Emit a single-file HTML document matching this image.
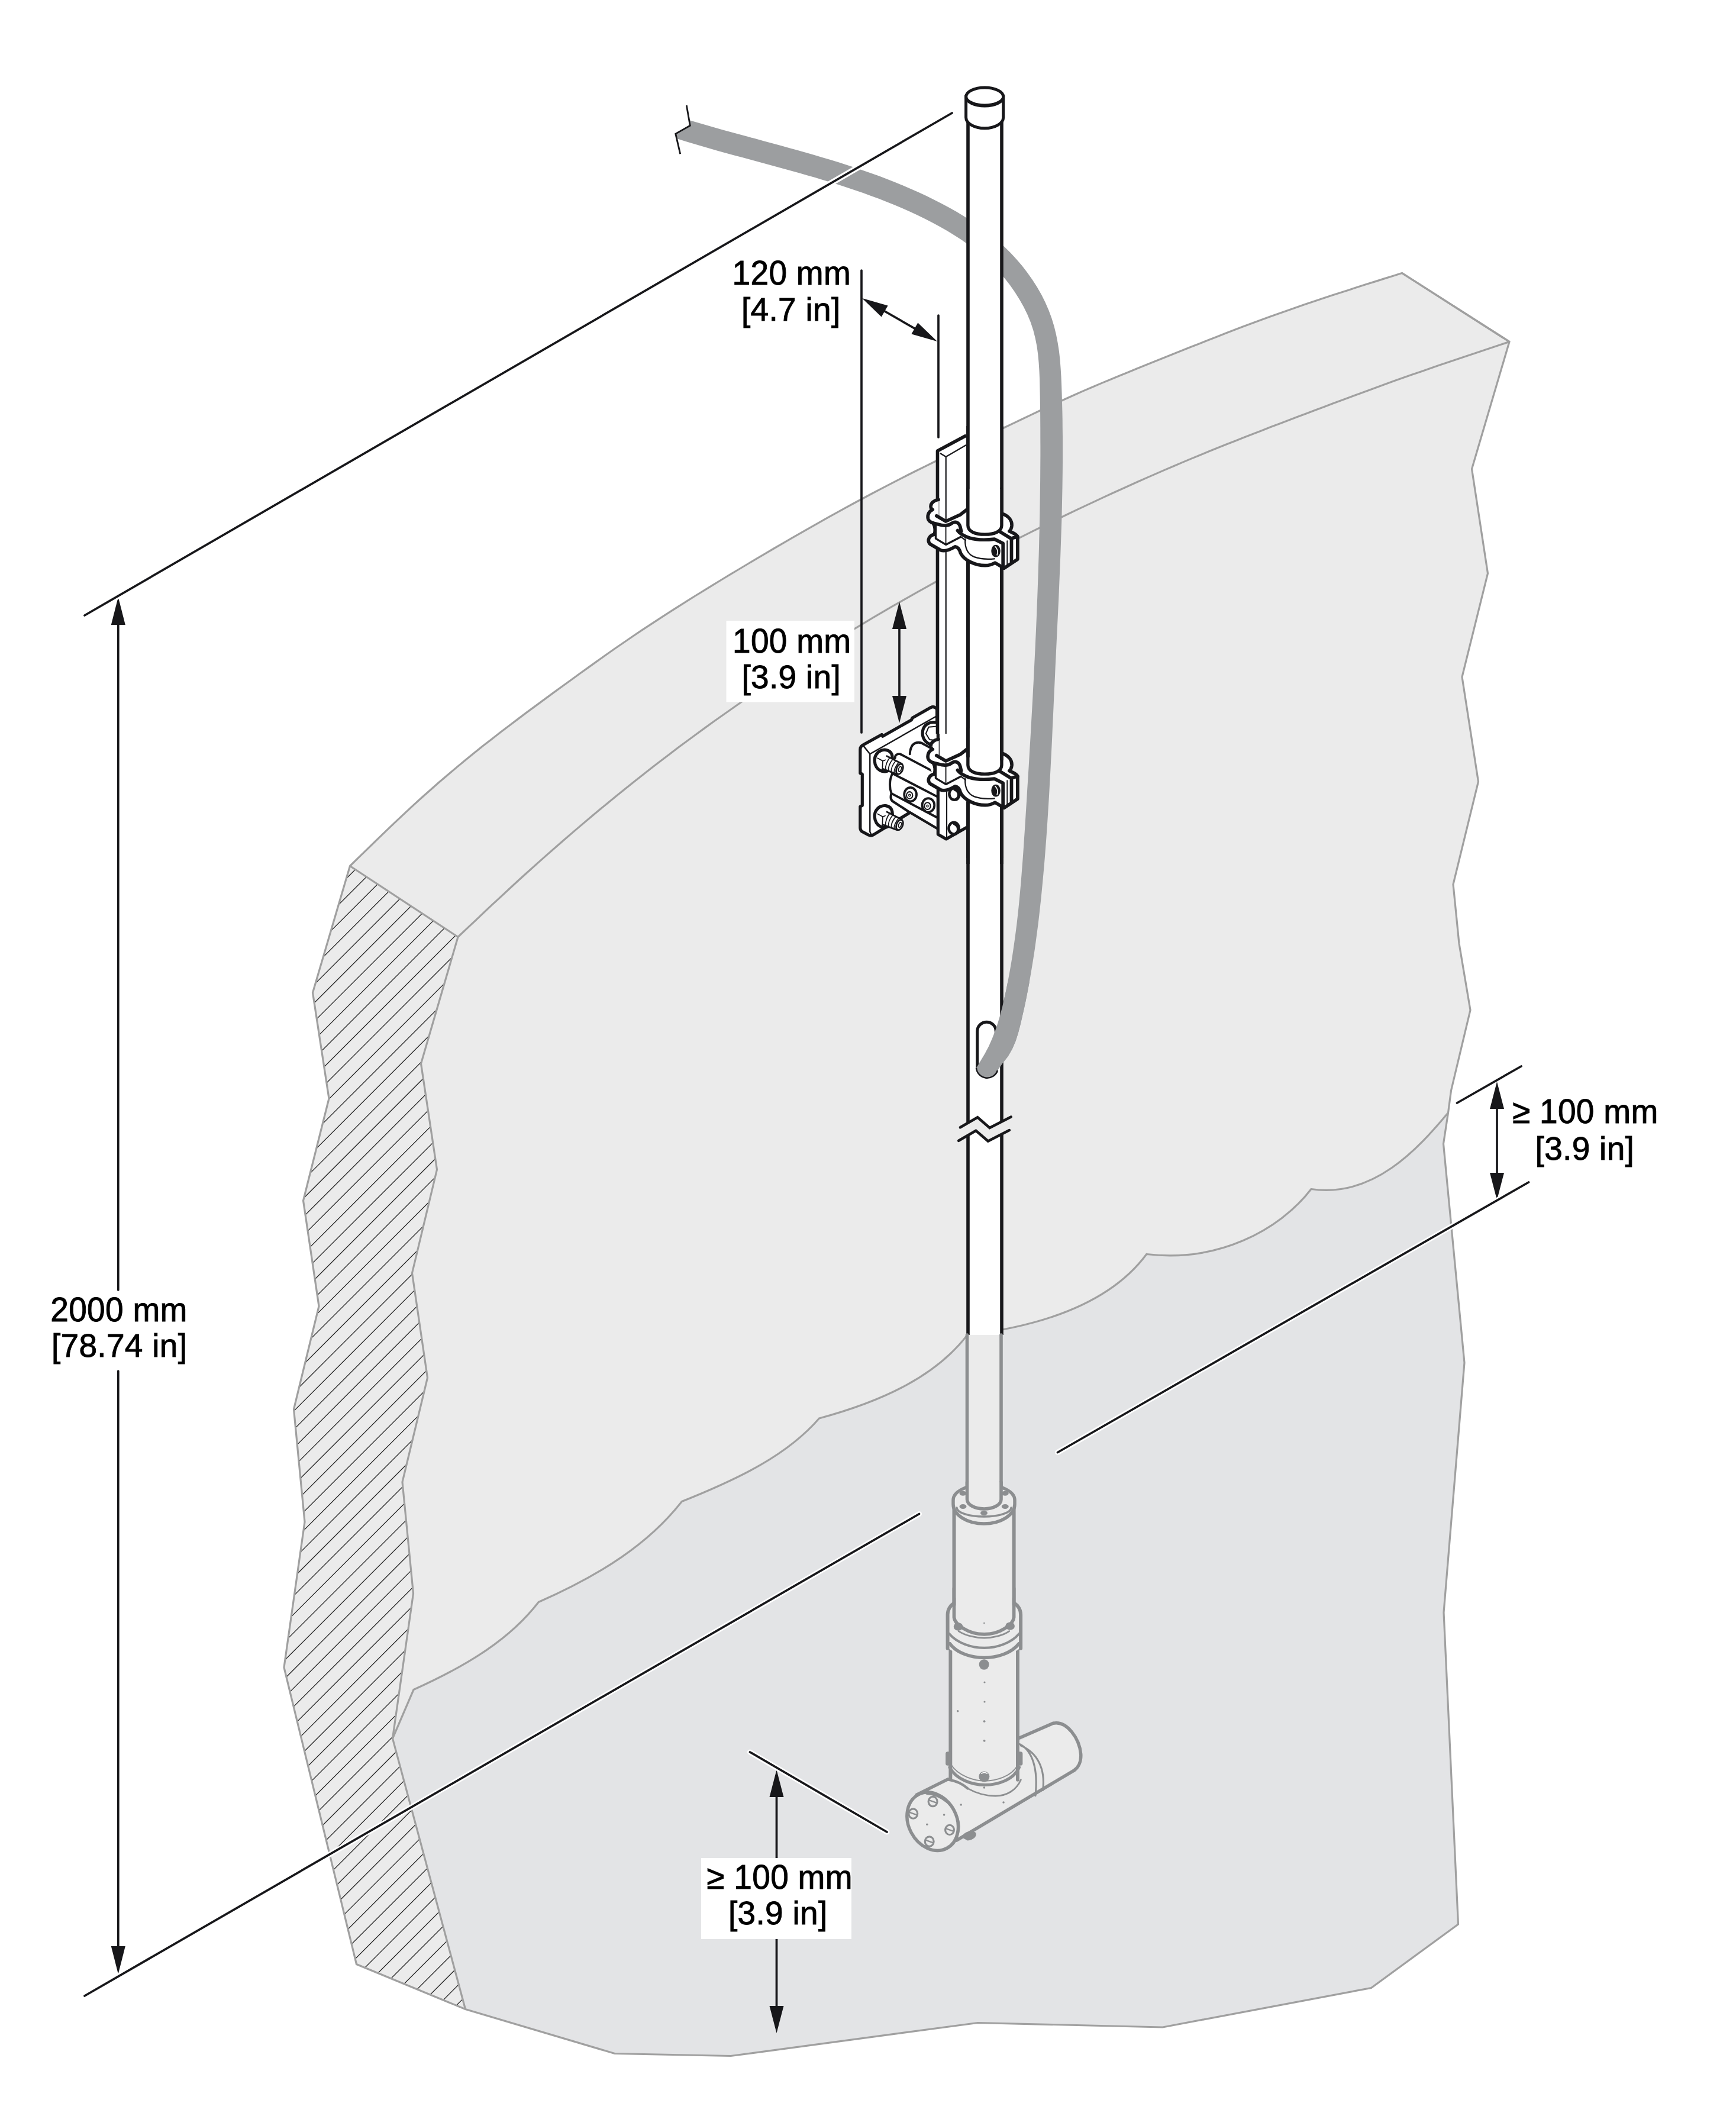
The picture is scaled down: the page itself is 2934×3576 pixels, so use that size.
<!DOCTYPE html>
<html><head><meta charset="utf-8"><style>
html,body{margin:0;padding:0;background:#fff;overflow:hidden;}
svg{display:block;}
text{font-family:"Liberation Sans",sans-serif;}
</style></head><body><svg xmlns="http://www.w3.org/2000/svg" width="2934" height="3576" viewBox="0 0 2934 3576"><path d="M591.5,1463.5 L606.4,1448.9 L621.4,1434.3 L636.3,1419.8 L651.3,1405.4 L666.2,1391.1 L681.1,1377.1 L696.1,1363.2 L711.0,1349.5 L726.0,1336.2 L740.9,1323.0 L755.9,1310.2 L770.8,1297.6 L785.7,1285.2 L800.7,1273.1 L815.6,1261.1 L830.6,1249.4 L845.5,1237.8 L860.4,1226.4 L875.4,1215.1 L890.3,1203.9 L905.3,1192.9 L920.2,1181.9 L935.1,1170.9 L950.1,1160.0 L965.0,1149.2 L980.0,1138.3 L994.9,1127.6 L1009.9,1116.9 L1024.8,1106.3 L1039.7,1095.8 L1054.7,1085.5 L1069.6,1075.3 L1084.6,1065.2 L1099.5,1055.3 L1114.4,1045.6 L1129.4,1035.9 L1144.3,1026.3 L1159.3,1016.9 L1174.2,1007.5 L1189.1,998.3 L1204.1,989.1 L1219.0,980.0 L1234.0,970.9 L1248.9,962.0 L1263.9,953.0 L1278.8,944.1 L1293.7,935.3 L1308.7,926.5 L1323.6,917.8 L1338.6,909.2 L1353.5,900.6 L1368.4,892.1 L1383.4,883.6 L1398.3,875.2 L1413.3,866.9 L1428.2,858.7 L1443.1,850.5 L1458.1,842.5 L1473.0,834.5 L1488.0,826.6 L1502.9,818.8 L1517.9,811.1 L1532.8,803.5 L1547.7,796.0 L1562.7,788.6 L1577.6,781.3 L1592.6,774.0 L1607.5,766.7 L1622.4,759.3 L1637.4,752.0 L1652.3,744.7 L1667.3,737.4 L1682.2,730.1 L1697.1,722.8 L1712.1,715.6 L1727.0,708.5 L1742.0,701.4 L1756.9,694.3 L1771.9,687.4 L1786.8,680.5 L1801.7,673.7 L1816.7,667.0 L1831.6,660.4 L1846.6,654.0 L1861.5,647.6 L1876.4,641.4 L1891.4,635.2 L1906.3,629.2 L1921.3,623.1 L1936.2,617.1 L1951.1,611.1 L1966.1,605.1 L1981.0,599.1 L1996.0,593.1 L2010.9,587.1 L2025.9,581.2 L2040.8,575.2 L2055.7,569.4 L2070.7,563.5 L2085.6,557.8 L2100.6,552.1 L2115.5,546.5 L2130.4,541.0 L2145.4,535.5 L2160.3,530.2 L2175.3,524.9 L2190.2,519.7 L2205.1,514.5 L2220.1,509.5 L2235.0,504.5 L2250.0,499.6 L2264.9,494.7 L2279.9,489.9 L2294.8,485.1 L2309.7,480.3 L2324.7,475.6 L2339.6,470.9 L2354.6,466.2 L2369.5,461.5 L2551.0,577.5 L2487.5,792.5 L2514.5,969.0 L2471.0,1144.0 L2498.5,1321.0 L2456.0,1494.5 L2466.0,1594.5 L2485.0,1707.0 L2452.5,1843.0 L2447.5,1880.5 L2439.5,1933.0 L2475.0,2303.0 L2440.0,2725.0 L2464.5,3252.0 L2317.5,3359.5 L1965.0,3426.0 L1652.5,3418.5 L1235.0,3474.5 L1039.0,3470.5 L786.5,3395.5 L602.5,3319.5 L480.0,2818.0 L515.0,2572.0 L496.5,2381.5 L539.0,2207.5 L512.5,2029.0 L556.0,1856.5 L528.5,1677.5 L591.5,1463.5 Z" fill="#ebebeb"/>
<path d="M663.5,2938 L699,2855.5 C793.1,2813.2 863.0,2768.8 910.2,2707.5 C1018.5,2659.8 1097.7,2607.4 1152.3,2537.5 C1253.1,2497.2 1331.1,2458.4 1384.5,2397 C1495.5,2367.0 1582.4,2324.4 1635,2256 C1766.9,2240.2 1878.5,2199.6 1937.8,2119.5 C2056.6,2133.8 2161.3,2080.6 2216,2009.5 C2320.8,2025.2 2396.6,1941.6 2447.5,1880.5 L2439.5,1933.0 L2475.0,2303.0 L2440.0,2725.0 L2464.5,3252.0 L2317.5,3359.5 L1965.0,3426.0 L1652.5,3418.5 L1235.0,3474.5 L1039.0,3470.5 L786.5,3395.5 Z" fill="#e3e4e6"/>
<defs><clipPath id="hc"><polygon points="591.5,1463.5 774.0,1583.5 711.5,1797.5 738.5,1976.5 696.5,2151.5 722.5,2328.5 680.0,2504.5 698.5,2693.0 663.5,2938.0 786.5,3395.5 602.5,3319.5 480.0,2818.0 515.0,2572.0 496.5,2381.5 539.0,2207.5 512.5,2029.0 556.0,1856.5 528.5,1677.5 591.5,1463.5"/></clipPath></defs>
<path d="M-578.0,1400 L-2628.0,3450 M-546.8,1400 L-2596.8,3450 M-515.6,1400 L-2565.6,3450 M-484.4,1400 L-2534.4,3450 M-453.2,1400 L-2503.2,3450 M-422.0,1400 L-2472.0,3450 M-390.8,1400 L-2440.8,3450 M-359.6,1400 L-2409.6,3450 M-328.4,1400 L-2378.4,3450 M-297.2,1400 L-2347.2,3450 M-266.0,1400 L-2316.0,3450 M-234.8,1400 L-2284.8,3450 M-203.6,1400 L-2253.6,3450 M-172.4,1400 L-2222.4,3450 M-141.2,1400 L-2191.2,3450 M-110.0,1400 L-2160.0,3450 M-78.8,1400 L-2128.8,3450 M-47.6,1400 L-2097.6,3450 M-16.4,1400 L-2066.4,3450 M14.8,1400 L-2035.2,3450 M46.0,1400 L-2004.0,3450 M77.2,1400 L-1972.8,3450 M108.4,1400 L-1941.6,3450 M139.6,1400 L-1910.4,3450 M170.8,1400 L-1879.2,3450 M202.0,1400 L-1848.0,3450 M233.2,1400 L-1816.8,3450 M264.4,1400 L-1785.6,3450 M295.6,1400 L-1754.4,3450 M326.8,1400 L-1723.2,3450 M358.0,1400 L-1692.0,3450 M389.2,1400 L-1660.8,3450 M420.4,1400 L-1629.6,3450 M451.6,1400 L-1598.4,3450 M482.8,1400 L-1567.2,3450 M514.0,1400 L-1536.0,3450 M545.2,1400 L-1504.8,3450 M576.4,1400 L-1473.6,3450 M607.6,1400 L-1442.4,3450 M638.8,1400 L-1411.2,3450 M670.0,1400 L-1380.0,3450 M701.2,1400 L-1348.8,3450 M732.4,1400 L-1317.6,3450 M763.6,1400 L-1286.4,3450 M794.8,1400 L-1255.2,3450 M826.0,1400 L-1224.0,3450 M857.2,1400 L-1192.8,3450 M888.4,1400 L-1161.6,3450 M919.6,1400 L-1130.4,3450 M950.8,1400 L-1099.2,3450 M982.0,1400 L-1068.0,3450 M1013.2,1400 L-1036.8,3450 M1044.4,1400 L-1005.6,3450 M1075.6,1400 L-974.4,3450 M1106.8,1400 L-943.2,3450 M1138.0,1400 L-912.0,3450 M1169.2,1400 L-880.8,3450 M1200.4,1400 L-849.6,3450 M1231.6,1400 L-818.4,3450 M1262.8,1400 L-787.2,3450 M1294.0,1400 L-756.0,3450 M1325.2,1400 L-724.8,3450 M1356.4,1400 L-693.6,3450 M1387.6,1400 L-662.4,3450 M1418.8,1400 L-631.2,3450 M1450.0,1400 L-600.0,3450 M1481.2,1400 L-568.8,3450 M1512.4,1400 L-537.6,3450 M1543.6,1400 L-506.4,3450 M1574.8,1400 L-475.2,3450 M1606.0,1400 L-444.0,3450 M1637.2,1400 L-412.8,3450 M1668.4,1400 L-381.6,3450 M1699.6,1400 L-350.4,3450 M1730.8,1400 L-319.2,3450 M1762.0,1400 L-288.0,3450 M1793.2,1400 L-256.8,3450 M1824.4,1400 L-225.6,3450 M1855.6,1400 L-194.4,3450 M1886.8,1400 L-163.2,3450 M1918.0,1400 L-132.0,3450 M1949.2,1400 L-100.8,3450 M1980.4,1400 L-69.6,3450 M2011.6,1400 L-38.4,3450 M2042.8,1400 L-7.2,3450 M2074.0,1400 L24.0,3450 M2105.2,1400 L55.2,3450 M2136.4,1400 L86.4,3450 M2167.6,1400 L117.6,3450 M2198.8,1400 L148.8,3450 M2230.0,1400 L180.0,3450 M2261.2,1400 L211.2,3450 M2292.4,1400 L242.4,3450 M2323.6,1400 L273.6,3450 M2354.8,1400 L304.8,3450 M2386.0,1400 L336.0,3450 M2417.2,1400 L367.2,3450 M2448.4,1400 L398.4,3450 M2479.6,1400 L429.6,3450 M2510.8,1400 L460.8,3450 M2542.0,1400 L492.0,3450 M2573.2,1400 L523.2,3450 M2604.4,1400 L554.4,3450 M2635.6,1400 L585.6,3450 M2666.8,1400 L616.8,3450 M2698.0,1400 L648.0,3450 M2729.2,1400 L679.2,3450 M2760.4,1400 L710.4,3450 M2791.6,1400 L741.6,3450 M2822.8,1400 L772.8,3450 M2854.0,1400 L804.0,3450 M2885.2,1400 L835.2,3450 M2916.4,1400 L866.4,3450 M2947.6,1400 L897.6,3450 M2978.8,1400 L928.8,3450 M3010.0,1400 L960.0,3450 M3041.2,1400 L991.2,3450 M3072.4,1400 L1022.4,3450 M3103.6,1400 L1053.6,3450 M3134.8,1400 L1084.8,3450" stroke="#222" stroke-width="1.3" clip-path="url(#hc)"/>
<g fill="none" stroke="#a0a0a0" stroke-width="3.2" stroke-linejoin="miter">
<path d="M591.5,1463.5 L606.4,1448.9 L621.4,1434.3 L636.3,1419.8 L651.3,1405.4 L666.2,1391.1 L681.1,1377.1 L696.1,1363.2 L711.0,1349.5 L726.0,1336.2 L740.9,1323.0 L755.9,1310.2 L770.8,1297.6 L785.7,1285.2 L800.7,1273.1 L815.6,1261.1 L830.6,1249.4 L845.5,1237.8 L860.4,1226.4 L875.4,1215.1 L890.3,1203.9 L905.3,1192.9 L920.2,1181.9 L935.1,1170.9 L950.1,1160.0 L965.0,1149.2 L980.0,1138.3 L994.9,1127.6 L1009.9,1116.9 L1024.8,1106.3 L1039.7,1095.8 L1054.7,1085.5 L1069.6,1075.3 L1084.6,1065.2 L1099.5,1055.3 L1114.4,1045.6 L1129.4,1035.9 L1144.3,1026.3 L1159.3,1016.9 L1174.2,1007.5 L1189.1,998.3 L1204.1,989.1 L1219.0,980.0 L1234.0,970.9 L1248.9,962.0 L1263.9,953.0 L1278.8,944.1 L1293.7,935.3 L1308.7,926.5 L1323.6,917.8 L1338.6,909.2 L1353.5,900.6 L1368.4,892.1 L1383.4,883.6 L1398.3,875.2 L1413.3,866.9 L1428.2,858.7 L1443.1,850.5 L1458.1,842.5 L1473.0,834.5 L1488.0,826.6 L1502.9,818.8 L1517.9,811.1 L1532.8,803.5 L1547.7,796.0 L1562.7,788.6 L1577.6,781.3 L1592.6,774.0 L1607.5,766.7 L1622.4,759.3 L1637.4,752.0 L1652.3,744.7 L1667.3,737.4 L1682.2,730.1 L1697.1,722.8 L1712.1,715.6 L1727.0,708.5 L1742.0,701.4 L1756.9,694.3 L1771.9,687.4 L1786.8,680.5 L1801.7,673.7 L1816.7,667.0 L1831.6,660.4 L1846.6,654.0 L1861.5,647.6 L1876.4,641.4 L1891.4,635.2 L1906.3,629.2 L1921.3,623.1 L1936.2,617.1 L1951.1,611.1 L1966.1,605.1 L1981.0,599.1 L1996.0,593.1 L2010.9,587.1 L2025.9,581.2 L2040.8,575.2 L2055.7,569.4 L2070.7,563.5 L2085.6,557.8 L2100.6,552.1 L2115.5,546.5 L2130.4,541.0 L2145.4,535.5 L2160.3,530.2 L2175.3,524.9 L2190.2,519.7 L2205.1,514.5 L2220.1,509.5 L2235.0,504.5 L2250.0,499.6 L2264.9,494.7 L2279.9,489.9 L2294.8,485.1 L2309.7,480.3 L2324.7,475.6 L2339.6,470.9 L2354.6,466.2 L2369.5,461.5 L2551.0,577.5 L2487.5,792.5 L2514.5,969.0 L2471.0,1144.0 L2498.5,1321.0 L2456.0,1494.5 L2466.0,1594.5 L2485.0,1707.0 L2452.5,1843.0 L2447.5,1880.5 L2439.5,1933.0 L2475.0,2303.0 L2440.0,2725.0 L2464.5,3252.0 L2317.5,3359.5 L1965.0,3426.0 L1652.5,3418.5 L1235.0,3474.5 L1039.0,3470.5 L786.5,3395.5 L602.5,3319.5 L480.0,2818.0 L515.0,2572.0 L496.5,2381.5 L539.0,2207.5 L512.5,2029.0 L556.0,1856.5 L528.5,1677.5 L591.5,1463.5 Z"/>
<path d="M774.0,1583.5 L788.9,1569.4 L803.9,1555.3 L818.8,1541.2 L833.7,1527.2 L848.7,1513.3 L863.6,1499.5 L878.5,1485.8 L893.5,1472.3 L908.4,1458.9 L923.3,1445.6 L938.3,1432.5 L953.2,1419.5 L968.1,1406.6 L983.1,1393.9 L998.0,1381.3 L1012.9,1368.8 L1027.9,1356.5 L1042.8,1344.3 L1057.7,1332.2 L1072.7,1320.3 L1087.6,1308.5 L1102.5,1296.8 L1117.5,1285.3 L1132.4,1273.9 L1147.3,1262.6 L1162.3,1251.5 L1177.2,1240.5 L1192.1,1229.6 L1207.1,1218.8 L1222.0,1208.2 L1236.9,1197.7 L1251.8,1187.3 L1266.8,1177.0 L1281.7,1166.8 L1296.6,1156.7 L1311.6,1146.7 L1326.5,1136.9 L1341.4,1127.1 L1356.4,1117.4 L1371.3,1107.9 L1386.2,1098.4 L1401.2,1089.1 L1416.1,1079.8 L1431.0,1070.6 L1446.0,1061.6 L1460.9,1052.6 L1475.8,1043.7 L1490.8,1034.9 L1505.7,1026.2 L1520.6,1017.6 L1535.6,1009.1 L1550.5,1000.6 L1565.4,992.3 L1580.4,984.0 L1595.3,975.8 L1610.2,967.7 L1625.2,959.7 L1640.1,951.7 L1655.0,943.8 L1670.0,936.0 L1684.9,928.3 L1699.8,920.7 L1714.8,913.1 L1729.7,905.6 L1744.6,898.1 L1759.6,890.8 L1774.5,883.4 L1789.4,876.2 L1804.4,869.0 L1819.3,861.9 L1834.2,854.9 L1849.2,847.9 L1864.1,840.9 L1879.0,834.0 L1894.0,827.2 L1908.9,820.5 L1923.8,813.8 L1938.8,807.1 L1953.7,800.6 L1968.6,794.1 L1983.6,787.7 L1998.5,781.4 L2013.4,775.1 L2028.4,768.9 L2043.3,762.8 L2058.2,756.8 L2073.2,750.8 L2088.1,744.9 L2103.0,739.0 L2117.9,733.2 L2132.9,727.4 L2147.8,721.6 L2162.7,715.9 L2177.7,710.2 L2192.6,704.6 L2207.5,698.9 L2222.5,693.3 L2237.4,687.7 L2252.3,682.1 L2267.3,676.5 L2282.2,671.0 L2297.1,665.4 L2312.1,659.9 L2327.0,654.4 L2341.9,649.0 L2356.9,643.6 L2371.8,638.3 L2386.7,633.1 L2401.7,627.9 L2416.6,622.7 L2431.5,617.6 L2446.5,612.5 L2461.4,607.4 L2476.3,602.4 L2491.3,597.4 L2506.2,592.4 L2521.1,587.4 L2536.1,582.5 L2551.0,577.5"/>
<path d="M2369.5,461.5 L2551,577.5"/>
<polyline points="591.5,1463.5 774.0,1583.5 711.5,1797.5 738.5,1976.5 696.5,2151.5 722.5,2328.5 680.0,2504.5 698.5,2693.0 663.5,2938.0 786.5,3395.5"/>
<path d="M663.5,2938 L699,2855.5 C793.1,2813.2 863.0,2768.8 910.2,2707.5 C1018.5,2659.8 1097.7,2607.4 1152.3,2537.5 C1253.1,2497.2 1331.1,2458.4 1384.5,2397 C1495.5,2367.0 1582.4,2324.4 1635,2256 C1766.9,2240.2 1878.5,2199.6 1937.8,2119.5 C2056.6,2133.8 2161.3,2080.6 2216,2009.5 C2320.8,2025.2 2396.6,1941.6 2447.5,1880.5"/>
</g>
<g stroke="#17171a" stroke-width="3.7" fill="none" stroke-linecap="round">
<line x1="2462.5" y1="1864" x2="2571" y2="1802"/>
<line x1="199.8" y1="1030" x2="199.8" y2="2180"/>
<line x1="199.8" y1="2317" x2="199.8" y2="3316"/>
<line x1="2530" y1="1850" x2="2530" y2="2006"/>
<line x1="1312.5" y1="3010" x2="1312.5" y2="3140"/>
<line x1="1312.5" y1="3277" x2="1312.5" y2="3416"/>
<line x1="1456" y1="457" x2="1456" y2="1238"/>
<line x1="1586" y1="533" x2="1586" y2="739"/>
<line x1="1470" y1="511.5" x2="1571" y2="569.5"/>
<line x1="1520" y1="1040" x2="1520" y2="1200"/>
</g>
<polygon points="199.8,1009.0 211.8,1056.0 187.8,1056.0" fill="#17171a"/>
<polygon points="199.8,3336.0 187.8,3289.0 211.8,3289.0" fill="#17171a"/>
<polygon points="2530.0,1828.0 2542.0,1874.0 2518.0,1874.0" fill="#17171a"/>
<polygon points="2530.0,2028.0 2518.0,1982.0 2542.0,1982.0" fill="#17171a"/>
<polygon points="1312.5,2991.0 1324.5,3037.0 1300.5,3037.0" fill="#17171a"/>
<polygon points="1312.5,3436.0 1300.5,3390.0 1324.5,3390.0" fill="#17171a"/>
<polygon points="1520.0,1017.0 1532.0,1063.0 1508.0,1063.0" fill="#17171a"/>
<polygon points="1520.0,1222.0 1508.0,1176.0 1532.0,1176.0" fill="#17171a"/>
<polygon points="1457.0,504.0 1500.6,516.4 1489.7,535.5" fill="#17171a"/>
<polygon points="1584.0,577.0 1540.4,564.6 1551.3,545.5" fill="#17171a"/>
<path d="M1166.3,203.5 L1180.1,207.6 L1193.9,211.6 L1207.7,215.5 L1221.6,219.4 L1235.5,223.2 L1249.4,227.0 L1263.4,230.8 L1277.4,234.6 L1291.4,238.4 L1305.5,242.2 L1319.5,246.0 L1333.5,249.9 L1347.5,253.8 L1361.6,257.7 L1375.5,261.8 L1389.5,265.9 L1403.4,270.0 L1417.3,274.3 L1431.1,278.7 L1444.9,283.3 L1458.6,287.9 L1472.3,292.7 L1485.9,297.6 L1499.4,302.8 L1512.8,308.0 L1526.2,313.5 L1539.4,319.2 L1552.6,325.0 L1565.6,331.1 L1578.5,337.4 L1591.3,344.0 L1604.0,350.8 L1616.5,357.8 L1628.8,365.2 L1640.9,372.9 L1652.8,380.9 L1664.5,389.4 L1675.8,398.2 L1686.8,407.4 L1697.5,417.1 L1707.9,427.3 L1717.8,437.9 L1727.3,449.1 L1736.3,460.7 L1744.8,472.7 L1752.7,485.1 L1760.0,497.8 L1766.6,510.9 L1772.4,524.2 L1777.4,537.7 L1781.6,551.5 L1785.0,565.4 L1787.7,579.4 L1789.9,593.6 L1791.5,607.8 L1792.6,622.2 L1793.5,636.6 L1794.1,651.0 L1794.6,665.5 L1795.0,679.9 L1795.4,694.4 L1795.7,708.9 L1795.8,723.3 L1796.0,737.8 L1796.0,752.3 L1796.0,766.7 L1796.0,781.2 L1795.9,795.7 L1795.7,810.1 L1795.5,824.6 L1795.2,839.1 L1794.9,853.5 L1794.6,868.0 L1794.2,882.5 L1793.7,896.9 L1793.2,911.4 L1792.7,925.9 L1792.2,940.4 L1791.6,954.8 L1791.0,969.3 L1790.4,983.8 L1789.8,998.2 L1789.2,1012.7 L1788.5,1027.2 L1787.8,1041.6 L1787.1,1056.1 L1786.4,1070.6 L1785.7,1085.0 L1785.0,1099.5 L1784.3,1113.9 L1783.6,1128.4 L1783.0,1142.8 L1782.3,1157.3 L1781.6,1171.7 L1780.9,1186.2 L1780.3,1200.6 L1779.6,1215.1 L1778.9,1229.5 L1778.3,1244.0 L1777.6,1258.4 L1776.9,1272.8 L1776.1,1287.3 L1775.4,1301.7 L1774.6,1316.1 L1773.8,1330.6 L1773.0,1345.0 L1772.1,1359.4 L1771.2,1373.9 L1770.3,1388.3 L1769.3,1402.7 L1768.3,1417.2 L1767.2,1431.6 L1766.1,1446.0 L1764.9,1460.4 L1763.6,1474.9 L1762.3,1489.3 L1760.9,1503.7 L1759.5,1518.1 L1757.9,1532.6 L1756.3,1547.0 L1754.6,1561.4 L1752.7,1575.7 L1750.8,1590.1 L1748.8,1604.5 L1746.6,1618.8 L1744.3,1633.1 L1741.9,1647.3 L1739.4,1661.6 L1736.7,1675.8 L1733.9,1689.9 L1730.9,1704.0 L1727.7,1718.1 L1724.4,1732.2 L1720.8,1746.1 L1716.4,1759.7 L1710.8,1772.8 L1703.6,1785.3 L1694.4,1797.0 L1686.0,1809.0 A18.5,18.5 0 0 1 1650,1805 L1650.0,1805.0 L1657.3,1792.7 L1664.6,1780.5 L1671.2,1767.9 L1676.9,1755.1 L1682.0,1741.9 L1686.5,1728.5 L1690.5,1714.9 L1694.1,1701.2 L1697.3,1687.4 L1700.4,1673.5 L1703.2,1659.6 L1705.8,1645.7 L1708.3,1631.8 L1710.6,1617.8 L1712.7,1603.8 L1714.7,1589.8 L1716.6,1575.8 L1718.4,1561.7 L1720.0,1547.6 L1721.5,1533.5 L1722.9,1519.5 L1724.2,1505.3 L1725.5,1491.2 L1726.6,1477.1 L1727.7,1462.9 L1728.8,1448.8 L1729.8,1434.6 L1730.7,1420.5 L1731.7,1406.3 L1732.6,1392.2 L1733.5,1378.0 L1734.4,1363.8 L1735.3,1349.7 L1736.1,1335.5 L1737.0,1321.4 L1737.9,1307.2 L1738.8,1293.0 L1739.6,1278.9 L1740.4,1264.7 L1741.3,1250.6 L1742.1,1236.4 L1742.9,1222.2 L1743.7,1208.1 L1744.5,1193.9 L1745.3,1179.8 L1746.0,1165.6 L1746.8,1151.4 L1747.5,1137.3 L1748.2,1123.1 L1748.9,1109.0 L1749.6,1094.8 L1750.2,1080.7 L1750.9,1066.5 L1751.5,1052.3 L1752.1,1038.2 L1752.6,1024.0 L1753.2,1009.9 L1753.7,995.7 L1754.2,981.5 L1754.7,967.4 L1755.1,953.2 L1755.6,939.0 L1756.0,924.9 L1756.3,910.7 L1756.7,896.5 L1757.0,882.4 L1757.3,868.2 L1757.5,854.0 L1757.7,839.8 L1757.9,825.7 L1758.1,811.5 L1758.2,797.3 L1758.3,783.1 L1758.4,769.0 L1758.4,754.8 L1758.3,740.6 L1758.3,726.4 L1758.2,712.2 L1758.1,698.0 L1757.9,683.8 L1757.7,669.7 L1757.4,655.5 L1757.1,641.3 L1756.5,627.1 L1755.6,613.0 L1754.3,599.0 L1752.4,585.1 L1749.7,571.4 L1746.2,557.8 L1741.8,544.4 L1736.3,531.2 L1729.9,518.3 L1722.8,505.7 L1715.1,493.6 L1706.9,481.8 L1698.1,470.6 L1688.9,459.8 L1679.1,449.6 L1669.0,439.8 L1658.4,430.5 L1647.5,421.6 L1636.2,413.2 L1624.6,405.1 L1612.8,397.4 L1600.7,390.0 L1588.3,383.0 L1575.8,376.2 L1563.2,369.8 L1550.4,363.6 L1537.5,357.6 L1524.5,351.8 L1511.5,346.3 L1498.3,341.0 L1485.2,335.8 L1471.9,330.9 L1458.6,326.1 L1445.2,321.4 L1431.8,316.9 L1418.3,312.6 L1404.8,308.3 L1391.2,304.2 L1377.6,300.1 L1364.0,296.2 L1350.4,292.3 L1336.7,288.5 L1323.0,284.7 L1309.3,280.9 L1295.6,277.2 L1281.9,273.5 L1268.2,269.8 L1254.5,266.1 L1240.8,262.4 L1227.1,258.7 L1213.4,254.9 L1199.8,251.0 L1186.1,247.1 L1172.5,243.1 L1159.0,239.0 L1145.5,234.8 L1141.8,226.1 L1166.3,212.3 Z" fill="#9c9ea0"/>
<polyline points="1160.3,178 1166.3,212.3 1141.8,226.1 1149.7,260.2" fill="none" stroke="#17171a" stroke-width="2.8"/>
<line x1="143" y1="1040" x2="1609" y2="191" stroke="#fff" stroke-width="10" stroke-linecap="round"/><line x1="143" y1="1040" x2="1609" y2="191" stroke="#17171a" stroke-width="3.7" stroke-linecap="round"/>
<rect x="1636" y="200" width="57" height="2056" fill="#fff"/><line x1="1636" y1="200" x2="1636" y2="2256" stroke="#17171a" stroke-width="5.6"/><line x1="1693" y1="200" x2="1693" y2="2256" stroke="#17171a" stroke-width="5.6"/>
<path d="M1632.6,163.5 L1632.6,198.4 A31.5,18.4 0 0 0 1695.7,198.4 L1695.7,163.5 Z" fill="#fff" stroke="#17171a" stroke-width="5"/>
<ellipse cx="1664.2" cy="163.5" rx="31.5" ry="15.5" fill="#fff" stroke="#17171a" stroke-width="5"/>
<path d="M1633,163.5 A31.5,15.5 0 0 0 1695.5,163.5" fill="none" stroke="#17171a" stroke-width="3"/>
<path d="M1651.7,1805 L1651.7,1743 A15.8,15.8 0 0 1 1683.3,1743 L1683.3,1760" fill="#fff" stroke="#17171a" stroke-width="5"/>
<defs><clipPath id="lowc"><rect x="1600" y="1660" width="200" height="200"/></clipPath></defs>
<path d="M1166.3,203.5 L1180.1,207.6 L1193.9,211.6 L1207.7,215.5 L1221.6,219.4 L1235.5,223.2 L1249.4,227.0 L1263.4,230.8 L1277.4,234.6 L1291.4,238.4 L1305.5,242.2 L1319.5,246.0 L1333.5,249.9 L1347.5,253.8 L1361.6,257.7 L1375.5,261.8 L1389.5,265.9 L1403.4,270.0 L1417.3,274.3 L1431.1,278.7 L1444.9,283.3 L1458.6,287.9 L1472.3,292.7 L1485.9,297.6 L1499.4,302.8 L1512.8,308.0 L1526.2,313.5 L1539.4,319.2 L1552.6,325.0 L1565.6,331.1 L1578.5,337.4 L1591.3,344.0 L1604.0,350.8 L1616.5,357.8 L1628.8,365.2 L1640.9,372.9 L1652.8,380.9 L1664.5,389.4 L1675.8,398.2 L1686.8,407.4 L1697.5,417.1 L1707.9,427.3 L1717.8,437.9 L1727.3,449.1 L1736.3,460.7 L1744.8,472.7 L1752.7,485.1 L1760.0,497.8 L1766.6,510.9 L1772.4,524.2 L1777.4,537.7 L1781.6,551.5 L1785.0,565.4 L1787.7,579.4 L1789.9,593.6 L1791.5,607.8 L1792.6,622.2 L1793.5,636.6 L1794.1,651.0 L1794.6,665.5 L1795.0,679.9 L1795.4,694.4 L1795.7,708.9 L1795.8,723.3 L1796.0,737.8 L1796.0,752.3 L1796.0,766.7 L1796.0,781.2 L1795.9,795.7 L1795.7,810.1 L1795.5,824.6 L1795.2,839.1 L1794.9,853.5 L1794.6,868.0 L1794.2,882.5 L1793.7,896.9 L1793.2,911.4 L1792.7,925.9 L1792.2,940.4 L1791.6,954.8 L1791.0,969.3 L1790.4,983.8 L1789.8,998.2 L1789.2,1012.7 L1788.5,1027.2 L1787.8,1041.6 L1787.1,1056.1 L1786.4,1070.6 L1785.7,1085.0 L1785.0,1099.5 L1784.3,1113.9 L1783.6,1128.4 L1783.0,1142.8 L1782.3,1157.3 L1781.6,1171.7 L1780.9,1186.2 L1780.3,1200.6 L1779.6,1215.1 L1778.9,1229.5 L1778.3,1244.0 L1777.6,1258.4 L1776.9,1272.8 L1776.1,1287.3 L1775.4,1301.7 L1774.6,1316.1 L1773.8,1330.6 L1773.0,1345.0 L1772.1,1359.4 L1771.2,1373.9 L1770.3,1388.3 L1769.3,1402.7 L1768.3,1417.2 L1767.2,1431.6 L1766.1,1446.0 L1764.9,1460.4 L1763.6,1474.9 L1762.3,1489.3 L1760.9,1503.7 L1759.5,1518.1 L1757.9,1532.6 L1756.3,1547.0 L1754.6,1561.4 L1752.7,1575.7 L1750.8,1590.1 L1748.8,1604.5 L1746.6,1618.8 L1744.3,1633.1 L1741.9,1647.3 L1739.4,1661.6 L1736.7,1675.8 L1733.9,1689.9 L1730.9,1704.0 L1727.7,1718.1 L1724.4,1732.2 L1720.8,1746.1 L1716.4,1759.7 L1710.8,1772.8 L1703.6,1785.3 L1694.4,1797.0 L1686.0,1809.0 A18.5,18.5 0 0 1 1650,1805 L1650.0,1805.0 L1657.3,1792.7 L1664.6,1780.5 L1671.2,1767.9 L1676.9,1755.1 L1682.0,1741.9 L1686.5,1728.5 L1690.5,1714.9 L1694.1,1701.2 L1697.3,1687.4 L1700.4,1673.5 L1703.2,1659.6 L1705.8,1645.7 L1708.3,1631.8 L1710.6,1617.8 L1712.7,1603.8 L1714.7,1589.8 L1716.6,1575.8 L1718.4,1561.7 L1720.0,1547.6 L1721.5,1533.5 L1722.9,1519.5 L1724.2,1505.3 L1725.5,1491.2 L1726.6,1477.1 L1727.7,1462.9 L1728.8,1448.8 L1729.8,1434.6 L1730.7,1420.5 L1731.7,1406.3 L1732.6,1392.2 L1733.5,1378.0 L1734.4,1363.8 L1735.3,1349.7 L1736.1,1335.5 L1737.0,1321.4 L1737.9,1307.2 L1738.8,1293.0 L1739.6,1278.9 L1740.4,1264.7 L1741.3,1250.6 L1742.1,1236.4 L1742.9,1222.2 L1743.7,1208.1 L1744.5,1193.9 L1745.3,1179.8 L1746.0,1165.6 L1746.8,1151.4 L1747.5,1137.3 L1748.2,1123.1 L1748.9,1109.0 L1749.6,1094.8 L1750.2,1080.7 L1750.9,1066.5 L1751.5,1052.3 L1752.1,1038.2 L1752.6,1024.0 L1753.2,1009.9 L1753.7,995.7 L1754.2,981.5 L1754.7,967.4 L1755.1,953.2 L1755.6,939.0 L1756.0,924.9 L1756.3,910.7 L1756.7,896.5 L1757.0,882.4 L1757.3,868.2 L1757.5,854.0 L1757.7,839.8 L1757.9,825.7 L1758.1,811.5 L1758.2,797.3 L1758.3,783.1 L1758.4,769.0 L1758.4,754.8 L1758.3,740.6 L1758.3,726.4 L1758.2,712.2 L1758.1,698.0 L1757.9,683.8 L1757.7,669.7 L1757.4,655.5 L1757.1,641.3 L1756.5,627.1 L1755.6,613.0 L1754.3,599.0 L1752.4,585.1 L1749.7,571.4 L1746.2,557.8 L1741.8,544.4 L1736.3,531.2 L1729.9,518.3 L1722.8,505.7 L1715.1,493.6 L1706.9,481.8 L1698.1,470.6 L1688.9,459.8 L1679.1,449.6 L1669.0,439.8 L1658.4,430.5 L1647.5,421.6 L1636.2,413.2 L1624.6,405.1 L1612.8,397.4 L1600.7,390.0 L1588.3,383.0 L1575.8,376.2 L1563.2,369.8 L1550.4,363.6 L1537.5,357.6 L1524.5,351.8 L1511.5,346.3 L1498.3,341.0 L1485.2,335.8 L1471.9,330.9 L1458.6,326.1 L1445.2,321.4 L1431.8,316.9 L1418.3,312.6 L1404.8,308.3 L1391.2,304.2 L1377.6,300.1 L1364.0,296.2 L1350.4,292.3 L1336.7,288.5 L1323.0,284.7 L1309.3,280.9 L1295.6,277.2 L1281.9,273.5 L1268.2,269.8 L1254.5,266.1 L1240.8,262.4 L1227.1,258.7 L1213.4,254.9 L1199.8,251.0 L1186.1,247.1 L1172.5,243.1 L1159.0,239.0 L1145.5,234.8 L1141.8,226.1 L1166.3,212.3 Z" fill="#9c9ea0" clip-path="url(#lowc)"/>
<path d="M1650,1805 A18.5,18.5 0 0 0 1686,1809" fill="none" stroke="#17171a" stroke-width="2.5"/>
<polygon points="1622.9,1905.3 1652.2,1888.3 1672.6,1906 1708.7,1887.6 1705.9,1910 1669.9,1928.5 1649.4,1910.8 1620.2,1927.8" fill="#ebebeb"/>
<polyline points="1622.9,1905.3 1652.2,1888.3 1672.6,1906 1708.7,1887.6" fill="none" stroke="#17171a" stroke-width="4.5" stroke-linecap="round"/>
<polyline points="1620.2,1927.8 1649.4,1910.8 1669.9,1928.5 1705.9,1910" fill="none" stroke="#17171a" stroke-width="4.5" stroke-linecap="round"/>
<g transform="translate(1440,1180) scale(0.17301)" stroke="#17171a" stroke-linejoin="round" stroke-linecap="round" fill="none">
<path d="M80,500 C80,472 95,462 120,450 L290,355 L300,372 L580,212 L590,192 L770,90 C790,80 812,86 830,106 L830,1000 L560,1120 L215,1330 C195,1345 180,1345 160,1335 L95,1300 C85,1292 80,1282 80,1265 L80,1058 L100,1048 L100,742 L80,732 Z" fill="#fff" stroke-width="30"/>
<path d="M190,1335 L175,1305 L175,545 L830,172 M112,466 L175,545" stroke-width="14"/>
<path d="M830,238 C760,222 700,258 690,322 C682,382 712,440 782,455 L830,452" fill="#fff" stroke-width="30"/>
<path d="M830,275 L748,282 L722,345 L758,405 L830,412" stroke-width="12"/>
<path d="M565,545 C570,470 600,432 650,432 C672,432 690,440 705,452 L830,520 L830,1270 L560,1115 L400,1010 C372,980 365,930 385,930 C362,870 365,790 395,735 C378,690 385,630 420,582 C420,556 440,540 470,545 Z" fill="#fff" stroke="none"/>
<path d="M565,545 C570,470 600,432 650,432 C672,432 690,440 705,452 L830,520" stroke-width="22"/>
<path d="M420,582 C420,556 440,540 470,545 L830,735" stroke-width="22"/>
<path d="M420,582 C385,630 380,690 395,735 L830,960" stroke-width="22"/>
<path d="M395,735 C362,800 365,880 385,930 L830,1165" stroke-width="22"/>
<path d="M385,930 C372,975 380,1000 405,1012 L560,1112 L830,1272" stroke-width="24"/>
<ellipse cx="570" cy="940" rx="60" ry="68" fill="#fff" stroke-width="22"/>
<ellipse cx="562" cy="948" rx="30" ry="34" stroke-width="12"/>
<ellipse cx="562" cy="948" rx="9" ry="10" stroke-width="8"/>
<ellipse cx="745" cy="1045" rx="60" ry="68" fill="#fff" stroke-width="22"/>
<ellipse cx="737" cy="1053" rx="30" ry="34" stroke-width="12"/>
<ellipse cx="737" cy="1053" rx="9" ry="10" stroke-width="8"/>
<g transform="translate(0,0)"><path d="M238,548 C258,515 300,500 330,505 C362,510 385,530 392,560 L400,640 C400,672 365,712 325,716 C290,720 255,700 238,672 C218,640 212,585 238,548 Z" fill="#fff" stroke-width="30"/><path d="M250,585 L300,612 L385,585 M300,612 L296,706" stroke-width="10"/><path d="M340,565 L487,640 L440,742 L300,690 Z" fill="#fff" stroke="none"/><path d="M340,565 L487,640 M300,690 L440,742" stroke-width="16"/><path d="M369,580 C344,610 323,660 328,700" stroke-width="10"/><path d="M399,595 C374,625 351,671 356,711" stroke-width="10"/><path d="M428,610 C403,640 379,681 384,721" stroke-width="10"/><path d="M458,625 C433,655 407,692 412,732" stroke-width="10"/><ellipse cx="465" cy="692" rx="30" ry="52" transform="rotate(22 465 692)" fill="#fff" stroke-width="16"/><ellipse cx="468" cy="692" rx="13" ry="25" transform="rotate(22 468 692)" stroke-width="9"/></g>
<g transform="translate(0,545)"><path d="M238,548 C258,515 300,500 330,505 C362,510 385,530 392,560 L400,640 C400,672 365,712 325,716 C290,720 255,700 238,672 C218,640 212,585 238,548 Z" fill="#fff" stroke-width="30"/><path d="M250,585 L300,612 L385,585 M300,612 L296,706" stroke-width="10"/><path d="M340,565 L487,640 L440,742 L300,690 Z" fill="#fff" stroke="none"/><path d="M340,565 L487,640 M300,690 L440,742" stroke-width="16"/><path d="M369,580 C344,610 323,660 328,700" stroke-width="10"/><path d="M399,595 C374,625 351,671 356,711" stroke-width="10"/><path d="M428,610 C403,640 379,681 384,721" stroke-width="10"/><path d="M458,625 C433,655 407,692 412,732" stroke-width="10"/><ellipse cx="465" cy="692" rx="30" ry="52" transform="rotate(22 465 692)" fill="#fff" stroke-width="16"/><ellipse cx="468" cy="692" rx="13" ry="25" transform="rotate(22 468 692)" stroke-width="9"/></g>
<path d="M840,-10 L840,1330 L920,1375 L1120,1262 L1120,-10 Z" fill="#fff" stroke="none"/><path d="M840,-10 L840,1330 L920,1375 L1120,1262" stroke-width="30"/>
<path d="M925,900 L925,1372" stroke-width="12"/>
<ellipse cx="1000" cy="935" rx="50" ry="58" fill="#fff" stroke-width="26"/>
<path d="M1005,890 C1050,905 1055,965 1020,987" stroke-width="30"/>
<ellipse cx="995" cy="1270" rx="50" ry="58" fill="#fff" stroke-width="26"/>
<path d="M1000,1225 C1045,1240 1050,1300 1015,1322" stroke-width="30"/>
</g>
<path d="M1584.5,762 L1633,736 L1633,1240 L1584.5,1240 Z" fill="#fff" stroke="none"/>
<path d="M1584.5,1240 L1584.5,762 L1633,736" fill="none" stroke="#17171a" stroke-width="5.6" stroke-linejoin="round"/>
<path d="M1589,766 L1598.7,772 L1633,752 M1598.7,772 L1598.7,1240" fill="none" stroke="#17171a" stroke-width="2.2"/>
<rect x="1636" y="720" width="57" height="730" fill="#fff"/><line x1="1636" y1="720" x2="1636" y2="1450" stroke="#17171a" stroke-width="5.6"/><line x1="1693" y1="720" x2="1693" y2="1450" stroke="#17171a" stroke-width="5.6"/>
<g transform="translate(1555,830) scale(0.10369)" stroke="#17171a" stroke-linejoin="round" stroke-linecap="round" fill="none"><path d="M305,138 C228,150 172,192 174,252 C176,282 190,296 205,302 C150,322 115,382 130,450 C140,490 170,505 205,518 C160,560 150,650 220,700 C130,720 110,800 150,860 L380,990 C440,990 500,930 570,900 C620,910 640,960 660,1010 C720,1120 880,1200 1050,1210 C1120,1210 1180,1190 1220,1170 L1370,1260 L1590,1120 L1595,750 L1560,700 C1500,670 1470,660 1460,640 C1500,560 1490,450 1360,370 L1330,372 L1330,560 L780,560 L780,290 L765,300 L660,382 L420,492 L305,425 Z" fill="#fff" stroke="none"/><path d="M300,138 C228,150 172,192 174,252 C176,282 190,296 205,302 C150,322 115,382 130,450 C140,490 170,505 205,518 L360,556 C420,566 470,560 520,522 C560,496 600,502 630,532 C660,562 660,622 672,652" stroke-width="55"/><path d="M215,520 C245,580 255,640 232,705 C145,725 112,800 160,860 L330,960 C400,990 480,962 570,906 C620,912 645,952 660,1010 C720,1130 900,1212 1060,1212 C1120,1212 1180,1192 1222,1168 L1362,1252" stroke-width="55"/><path d="M268,402 L420,492 L660,382 L765,300" stroke-width="55"/><path d="M255,560 L255,772 L420,872 L660,748" stroke-width="32"/><path d="M420,575 L420,872" stroke-width="18"/><path d="M780,-40 L780,560 C780,660 900,705 1055,705 C1210,705 1330,660 1330,560 L1330,-40" fill="#fff" stroke-width="52"/><path d="M1352,372 C1450,412 1500,482 1495,562 C1490,612 1470,640 1455,652 C1520,682 1572,702 1590,742 L1590,1110 L1372,1255" stroke-width="55"/><path d="M612,642 C652,702 722,732 802,762 C902,792 1052,802 1212,782 L1352,852 L1352,1250" stroke-width="55"/><path d="M1302,662 L1482,772 L1590,742 M1490,772 L1490,1150" stroke-width="55"/><path d="M1420,812 L1420,1200" stroke-width="18"/><path d="M735,782 C730,900 762,1022 882,1072 C962,1102 1102,1112 1212,1102 M662,742 L742,802" stroke-width="22"/><ellipse cx="1235" cy="975" rx="55" ry="80" fill="#17171a" stroke-width="40"/><path d="M1225,905 C1262,935 1275,990 1255,1040" stroke="#fff" stroke-width="16"/></g>
<g transform="translate(1555,1235) scale(0.10369)" stroke="#17171a" stroke-linejoin="round" stroke-linecap="round" fill="none"><path d="M305,138 C228,150 172,192 174,252 C176,282 190,296 205,302 C150,322 115,382 130,450 C140,490 170,505 205,518 C160,560 150,650 220,700 C130,720 110,800 150,860 L380,990 C440,990 500,930 570,900 C620,910 640,960 660,1010 C720,1120 880,1200 1050,1210 C1120,1210 1180,1190 1220,1170 L1370,1260 L1590,1120 L1595,750 L1560,700 C1500,670 1470,660 1460,640 C1500,560 1490,450 1360,370 L1330,372 L1330,560 L780,560 L780,290 L765,300 L660,382 L420,492 L305,425 Z" fill="#fff" stroke="none"/><path d="M300,138 C228,150 172,192 174,252 C176,282 190,296 205,302 C150,322 115,382 130,450 C140,490 170,505 205,518 L360,556 C420,566 470,560 520,522 C560,496 600,502 630,532 C660,562 660,622 672,652" stroke-width="55"/><path d="M215,520 C245,580 255,640 232,705 C145,725 112,800 160,860 L330,960 C400,990 480,962 570,906 C620,912 645,952 660,1010 C720,1130 900,1212 1060,1212 C1120,1212 1180,1192 1222,1168 L1362,1252" stroke-width="55"/><path d="M268,402 L420,492 L660,382 L765,300" stroke-width="55"/><path d="M255,560 L255,772 L420,872 L660,748" stroke-width="32"/><path d="M420,575 L420,872" stroke-width="18"/><path d="M780,-40 L780,560 C780,660 900,705 1055,705 C1210,705 1330,660 1330,560 L1330,-40" fill="#fff" stroke-width="52"/><path d="M1352,372 C1450,412 1500,482 1495,562 C1490,612 1470,640 1455,652 C1520,682 1572,702 1590,742 L1590,1110 L1372,1255" stroke-width="55"/><path d="M612,642 C652,702 722,732 802,762 C902,792 1052,802 1212,782 L1352,852 L1352,1250" stroke-width="55"/><path d="M1302,662 L1482,772 L1590,742 M1490,772 L1490,1150" stroke-width="55"/><path d="M1420,812 L1420,1200" stroke-width="18"/><path d="M735,782 C730,900 762,1022 882,1072 C962,1102 1102,1112 1212,1102 M662,742 L742,802" stroke-width="22"/><ellipse cx="1235" cy="975" rx="55" ry="80" fill="#17171a" stroke-width="40"/><path d="M1225,905 C1262,935 1275,990 1255,1040" stroke="#fff" stroke-width="16"/></g>
<line x1="1636" y1="950" x2="1636" y2="1280" stroke="#17171a" stroke-width="5.6"/><line x1="1693" y1="955" x2="1693" y2="1285" stroke="#17171a" stroke-width="5.6"/>
<line x1="1636" y1="1355" x2="1636" y2="1460" stroke="#17171a" stroke-width="5.6"/><line x1="1693" y1="1360" x2="1693" y2="1460" stroke="#17171a" stroke-width="5.6"/>
<g stroke="#8c8e90" fill="#ebebeb" stroke-linejoin="round" stroke-linecap="round">
<rect x="1634.5" y="2256" width="57.5" height="280" fill="#ebebeb" stroke="none"/>
<line x1="1634.5" y1="2256" x2="1634.5" y2="2534" stroke-width="5.6"/><line x1="1692" y1="2256" x2="1692" y2="2534" stroke-width="5.6"/>
<g transform="translate(1510,2880) scale(0.19585)">
<path d="M160,800 L1380,165 C1520,160 1620,330 1615,440 C1610,500 1590,540 1560,570 L500,1200 L380,1265 C250,1270 120,1130 115,960 C112,880 130,830 160,800 Z" stroke="none"/>
<ellipse cx="338" cy="1012" rx="208" ry="262" transform="rotate(-28 338 1012)" fill="none" stroke-width="28"/>
<path d="M200,782 L470,648 M1085,292 L1378,165 M1558,572 L545,1175" fill="none" stroke-width="28"/>
<path d="M1378,165 C1500,140 1605,300 1617,430 C1622,500 1592,548 1558,572" fill="none" stroke-width="28"/>
<path d="M1090,345 C1200,400 1250,560 1225,790 M1100,358 C1245,420 1312,560 1290,742" fill="none" stroke-width="16"/>
<path d="M285,772 C420,782 530,882 560,1002 C575,1072 560,1142 520,1182" fill="none" stroke-width="16"/>
<ellipse cx="340" cy="840" rx="38" ry="42" stroke-width="16"/><path d="M306,828 L374,852" fill="none" stroke-width="12"/>
<ellipse cx="170" cy="945" rx="38" ry="42" stroke-width="16"/><path d="M136,933 L204,957" fill="none" stroke-width="12"/>
<ellipse cx="485" cy="1085" rx="38" ry="42" stroke-width="16"/><path d="M451,1073 L519,1097" fill="none" stroke-width="12"/>
<ellipse cx="310" cy="1185" rx="38" ry="42" stroke-width="16"/><path d="M276,1173 L344,1197" fill="none" stroke-width="12"/>
<path d="M590,1150 C600,1100 680,1080 712,1110 C722,1140 690,1172 640,1177 Z" fill="#8c8e90" stroke="none"/>
<circle cx="583" cy="868" r="9" fill="#8c8e90" stroke="none"/>
<circle cx="950" cy="848" r="9" fill="#8c8e90" stroke="none"/>
<circle cx="437" cy="955" r="9" fill="#8c8e90" stroke="none"/>
<circle cx="290" cy="1038" r="9" fill="#8c8e90" stroke="none"/>
<circle cx="783" cy="720" r="9" fill="#8c8e90" stroke="none"/>
<path d="M492,-540 L492,560 C560,660 700,692 783,692 C900,692 1020,652 1072,560 L1072,-540 Z" stroke="none"/>
<path d="M492,-540 L492,642 M1072,-540 L1072,652" fill="none" stroke-width="30"/>
<path d="M485,545 C540,650 680,697 790,697 C900,697 1040,652 1085,545" fill="none" stroke-width="26"/>
<path d="M497,522 C562,622 700,662 790,662 C880,662 1020,627 1075,522" fill="none" stroke-width="10"/>
<path d="M475,652 C540,662 600,692 640,727" fill="none" stroke-width="22"/>
<path d="M640,727 C720,772 800,792 880,792 C980,792 1060,742 1100,652" fill="none" stroke-width="14"/>
<rect x="450" y="410" width="55" height="120" rx="18" fill="#8c8e90" stroke="none"/><rect x="1058" y="410" width="57" height="120" rx="18" fill="#8c8e90" stroke="none"/>
<circle cx="783" cy="625" r="46" fill="#8c8e90" stroke="none"/><path d="M760,598 C775,588 795,588 808,598" fill="none" stroke="#fff" stroke-width="8"/>
<circle cx="555" cy="60" r="9" fill="#8c8e90" stroke="none"/>
<circle cx="783" cy="148" r="9" fill="#8c8e90" stroke="none"/>
<circle cx="783" cy="315" r="9" fill="#8c8e90" stroke="none"/>
</g>
<g transform="translate(1585,2690) scale(0.09217)">
<path d="M180,1020 L180,420 C180,330 230,250 290,215 L1410,215 C1470,250 1520,330 1520,420 L1520,1020 C1400,1150 1100,1210 850,1210 C600,1210 300,1150 180,1020 Z" stroke="none"/>
<path d="M180,1040 L180,420 C180,330 230,250 290,215 M1410,215 C1470,250 1520,330 1520,420 L1520,1040" fill="none" stroke-width="65"/>
<path d="M220,950 C350,1130 620,1210 850,1210 C1080,1210 1350,1130 1490,950" fill="none" stroke-width="60"/>
<path d="M210,770 C350,940 620,1030 850,1030 C1080,1030 1350,940 1490,770" fill="none" stroke-width="45"/>
<path d="M298,-60 L298,470 C310,600 560,780 850,780 C1140,780 1385,600 1395,470 L1395,-60" stroke-width="62"/>
<path d="M380,722 C500,802 700,847 850,847 C1000,847 1200,802 1310,722" fill="none" stroke-width="30"/>
<ellipse cx="375" cy="640" rx="85" ry="72" fill="#8c8e90" stroke="none"/><ellipse cx="1325" cy="630" rx="85" ry="72" fill="#8c8e90" stroke="none"/>
<ellipse cx="848" cy="1335" rx="92" ry="95" fill="#8c8e90" stroke="none"/>
<circle cx="850" cy="575" r="14" fill="#8c8e90" stroke="none"/>
</g>
<rect x="1612.5" y="2540" width="101" height="160" stroke="none"/><path d="M1612.5,2542 L1612.5,2712 M1713.6,2542 L1713.6,2712" stroke-width="6"/>
<path d="M1611,2542 L1611,2535 A52,26 0 0 1 1715,2535 L1715,2542 A52,33 0 0 1 1611,2542 Z" stroke-width="5.5"/>
<path d="M1617,2548 A46,15 0 0 0 1709,2548" fill="none" stroke-width="3.5"/>
<ellipse cx="1627.5" cy="2523.75" rx="6" ry="4" fill="#8c8e90" stroke="none"/>
<ellipse cx="1698.75" cy="2523.75" rx="6" ry="4" fill="#8c8e90" stroke="none"/>
<ellipse cx="1627.5" cy="2546" rx="6" ry="4" fill="#8c8e90" stroke="none"/>
<ellipse cx="1698.75" cy="2546" rx="6" ry="4" fill="#8c8e90" stroke="none"/>
<ellipse cx="1663" cy="2557" rx="6" ry="4" fill="#8c8e90" stroke="none"/>
<path d="M1634.5,2505 L1634.5,2534 A28.75,16 0 0 0 1692,2534 L1692,2505" fill="#ebebeb" stroke-width="5.6"/>
<circle cx="1664" cy="2843" r="1.6" fill="#8c8e90" stroke="none"/>
<circle cx="1664" cy="2876" r="1.6" fill="#8c8e90" stroke="none"/>
<circle cx="1664" cy="2909" r="1.6" fill="#8c8e90" stroke="none"/>
<circle cx="1664" cy="2942" r="1.6" fill="#8c8e90" stroke="none"/>
</g>
<line x1="143" y1="3373" x2="1553.5" y2="2558.5" stroke="#fff" stroke-width="9" stroke-linecap="round"/><line x1="143" y1="3373" x2="1553.5" y2="2558.5" stroke="#17171a" stroke-width="3.7" stroke-linecap="round"/>
<line x1="1787.5" y1="2454.5" x2="2583.5" y2="1998" stroke="#fff" stroke-width="9" stroke-linecap="round"/><line x1="1787.5" y1="2454.5" x2="2583.5" y2="1998" stroke="#17171a" stroke-width="3.7" stroke-linecap="round"/>
<line x1="1267.5" y1="2961" x2="1499" y2="3096" stroke="#fff" stroke-width="9" stroke-linecap="round"/><line x1="1267.5" y1="2961" x2="1499" y2="3096" stroke="#17171a" stroke-width="3.7" stroke-linecap="round"/>
<rect x="1227.5" y="1049" width="216.5" height="137.5" fill="#fff"/>
<rect x="1185" y="3140" width="254" height="137" fill="#fff"/>
<g font-family="Liberation Sans, sans-serif" fill="#000" stroke="#000" stroke-width="0.9" letter-spacing="0.3">
<text transform="translate(1237.6,480.5) scale(1,1.04)" x="0" y="0" font-size="55">120 mm</text>
<text transform="translate(1253,541.5) scale(1,1.0)" x="0" y="0" font-size="55">[4.7 in]</text>
<text transform="translate(1238,1102.5) scale(1,1.04)" x="0" y="0" font-size="55">100 mm</text>
<text transform="translate(1253.5,1163) scale(1,1.0)" x="0" y="0" font-size="55">[3.9 in]</text>
<text transform="translate(85.3,2233) scale(1,1.04)" x="0" y="0" font-size="55">2000 mm</text>
<text transform="translate(87,2293) scale(1,1.0)" x="0" y="0" font-size="55">[78.74 in]</text>
<text transform="translate(2556,1898) scale(1,1.04)" x="0" y="0" font-size="55">&#8805; 100 mm</text>
<text transform="translate(2594.6,1960) scale(1,1.0)" x="0" y="0" font-size="55">[3.9 in]</text>
<text transform="translate(1194.3,3192) scale(1,1.04)" x="0" y="0" font-size="55">&#8805; 100 mm</text>
<text transform="translate(1231,3252) scale(1,1.0)" x="0" y="0" font-size="55">[3.9 in]</text>
</g></svg></body></html>
